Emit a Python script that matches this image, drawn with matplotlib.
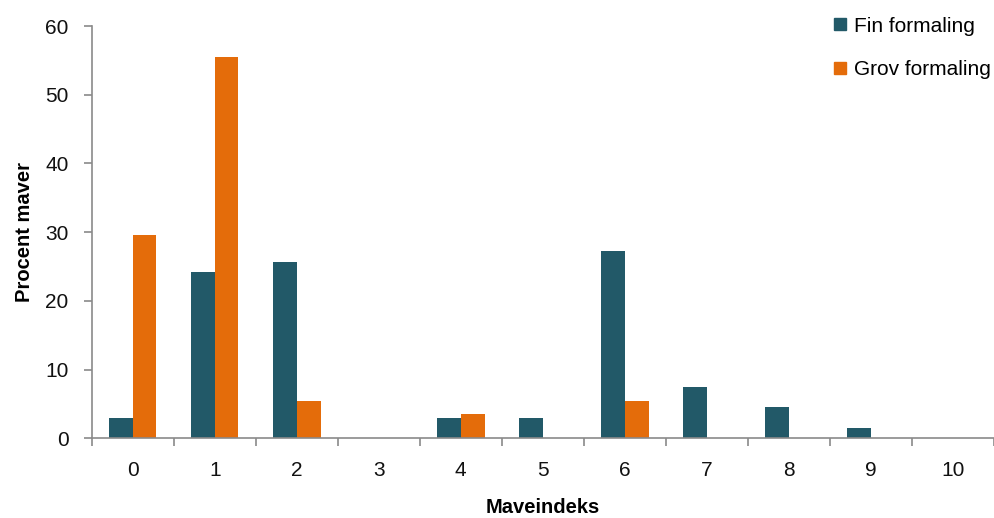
"""Bar chart: Procent maver per maveindeks, fin vs. grov formaling."""

import matplotlib

matplotlib.use("Agg")
import matplotlib.pyplot as plt  # noqa: E402
import numpy as np  # noqa: E402
from matplotlib.lines import Line2D  # noqa: E402

CATEGORIES = ["0", "1", "2", "3", "4", "5", "6", "7", "8", "9", "10"]
FIN = [3.0, 24.2, 25.7, 0.0, 3.0, 3.0, 27.3, 7.5, 4.5, 1.5, 0.0]
GROV = [29.6, 55.5, 5.4, 0.0, 3.6, 0.0, 5.4, 0.0, 0.0, 0.0, 0.0]
LABELS = ["Fin formaling", "Grov formaling"]
COLORS = ["#225968", "#E46C0A"]
SPINE = "#8a8a8a"

plt.rcParams.update({
    "font.family": ["Liberation Sans", "DejaVu Sans"],
    "font.size": 15,
})

fig = plt.figure(figsize=(9.94, 5.18), dpi=100)
ax = fig.add_axes([0.0922, 0.1539, 0.9078, 0.7959])

x = np.arange(len(CATEGORIES))
width = 0.29
ax.bar(x - width / 2, FIN, width, color=COLORS[0])
ax.bar(x + width / 2, GROV, width, color=COLORS[1])

ax.set_xlim(-0.5, 10.5)
ax.set_ylim(0, 60)
ax.set_yticks(range(0, 61, 10))
ax.set_xticks(x)
ax.set_xticklabels(CATEGORIES)
ax.set_xticks(np.arange(-0.5, 10.6, 1.0), minor=True)

for side in ("top", "right"):
    ax.spines[side].set_visible(False)
for side in ("left", "bottom"):
    ax.spines[side].set_color(SPINE)
    ax.spines[side].set_linewidth(1.2)

ax.tick_params(axis="y", direction="out", length=6, width=1.2, color=SPINE,
               pad=10.5, labelsize=15, labelcolor="#111111")
ax.tick_params(axis="x", which="major", length=0, pad=16, labelsize=15,
               labelcolor="#111111")
ax.tick_params(axis="x", which="minor", direction="out", length=6, width=1.2,
               color=SPINE)

ax.set_xlabel("Maveindeks", fontweight="bold", fontsize=14.5)
ax.set_ylabel("Procent maver", fontweight="bold", fontsize=14.5)
ax.xaxis.set_label_coords(0.5, -0.145)
ax.yaxis.set_label_coords(-0.064, 0.5)

handles = [
    Line2D([], [], marker="s", linestyle="none", markersize=9,
           markerfacecolor=c, markeredgecolor=c)
    for c in COLORS
]
fig.legend(handles, LABELS, loc="upper left", bbox_to_anchor=(0.82, 1.0),
           frameon=False, handlelength=0.8, handletextpad=0.25,
           labelspacing=1.17, borderpad=0.3, fontsize=15)

fig.savefig("out.png", dpi=100)
